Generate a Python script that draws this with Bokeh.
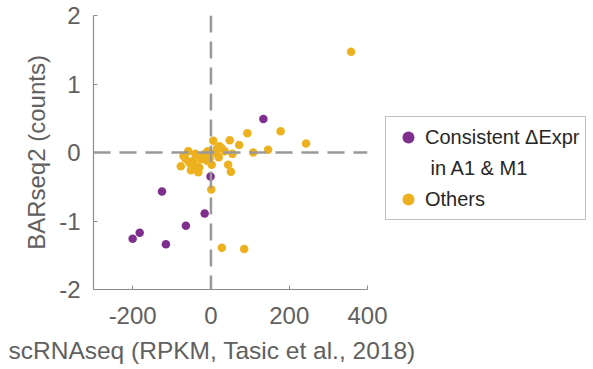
from bokeh.plotting import figure
from bokeh.models import Range1d, FixedTicker, Span, Legend, LegendItem, Title, ColumnDataSource
from bokeh.embed import file_html
from bokeh.resources import INLINE

# Data
purple_x = [134, -1, -125, -16, -64, -182, -200, -115]
purple_y = [0.49, -0.35, -0.57, -0.89, -1.07, -1.17, -1.26, -1.34]

orange_x = [358, 178, 243, 93, 146, 108, 48, 72, 6, 22, 28, 55, 20, 44, 51, 2, 1,
            28, 85, -58, -77, -51, -32, -30, -65, -40, -13, -25, -45, -20, -8, 12,
            -55, -38, -10, -70, 35, -3, 15]
orange_y = [1.47, 0.31, 0.13, 0.28, 0.04, 0.0, 0.18, 0.11, 0.17, 0.09, 0.06, -0.02,
            -0.07, -0.18, -0.28, -0.18, -0.54, -1.39, -1.41, 0.02, -0.2, -0.26, -0.29,
            -0.22, -0.09, -0.02, -0.01, -0.1, -0.12, -0.05, 0.02, 0.0, -0.15, -0.2,
            -0.12, -0.05, 0.02, -0.08, 0.06]

x_ticks = [-200, 0, 200, 400]
y_ticks = [-2, -1, 0, 1, 2]
labels = ["Consistent \u0394Expr", "\u00a0in A1 & M1", "Others"]
x_label = "scRNAseq (RPKM, Tasic et al., 2018)"
y_label = "BARseq2 (counts)"

FONT = "Liberation Sans"
GRAY = "#8c8c8c"
TXT = "#606060"

p = figure(frame_width=274, frame_height=274, output_backend="svg", toolbar_location=None,
           x_range=Range1d(-300, 400), y_range=Range1d(-2, 2),
           min_border_left=93, min_border_right=226, min_border_top=15,
           min_border_bottom=80)
p.outline_line_color = None
p.grid.visible = False

for ax in (p.xaxis[0], p.yaxis[0]):
    ax.axis_line_color = GRAY
    ax.axis_line_width = 1.2
    ax.major_tick_line_color = GRAY
    ax.major_tick_in = 4
    ax.major_tick_out = 0
    ax.minor_tick_line_color = None
    ax.major_label_text_font = FONT
    ax.major_label_text_font_size = "24px"
    ax.major_label_text_color = TXT

p.xaxis.ticker = FixedTicker(ticks=x_ticks)
p.yaxis.ticker = FixedTicker(ticks=y_ticks)
p.xaxis.major_label_overrides = {t: str(t) for t in x_ticks}
p.yaxis.major_label_overrides = {t: str(t) for t in y_ticks}
p.xaxis.major_label_standoff = 17
p.yaxis.major_label_standoff = 13

p.yaxis.axis_label = y_label
p.yaxis.axis_label_text_font = FONT
p.yaxis.axis_label_text_font_size = "24px"
p.yaxis.axis_label_text_font_style = "normal"
p.yaxis.axis_label_text_color = TXT
p.yaxis.axis_label_standoff = 6

# dashed zero lines
p.add_layout(Span(location=0, dimension="width", line_color="#999999",
                  line_width=2.5, line_dash="17 9"))
p.add_layout(Span(location=0, dimension="height", line_color="#999999",
                  line_width=2.5, line_dash="17 9"))

src_p = ColumnDataSource(dict(x=purple_x, y=purple_y))
src_o = ColumnDataSource(dict(x=orange_x, y=orange_y))
r1 = p.scatter("x", "y", source=src_p, size=8.5, fill_color="#7E2F8E", line_color=None)
r2 = p.scatter("x", "y", source=src_o, size=8.5, fill_color="#EDB120", line_color=None)

legend = Legend(items=[LegendItem(label=labels[0], renderers=[r1]),
                       LegendItem(label=labels[1], renderers=[]),
                       LegendItem(label=labels[2], renderers=[r2])],
                location=(18, 69))
legend.label_text_font = FONT
legend.label_text_font_size = "20px"
legend.label_text_color = "#262626"
legend.border_line_color = "#808080"
legend.border_line_width = 1.5
legend.glyph_width = 34
legend.glyph_height = 30
legend.label_height = 30
legend.label_standoff = 0
legend.spacing = 1
legend.padding = 5
legend.margin = 0
p.add_layout(legend, "right")

p.add_layout(Title(text=x_label, align="left", offset=-85, text_font=FONT,
                   text_font_size="24.5px", text_font_style="normal",
                   text_color=TXT, standoff=16), "below")

open("out.html", "w").write(file_html(p, INLINE))
